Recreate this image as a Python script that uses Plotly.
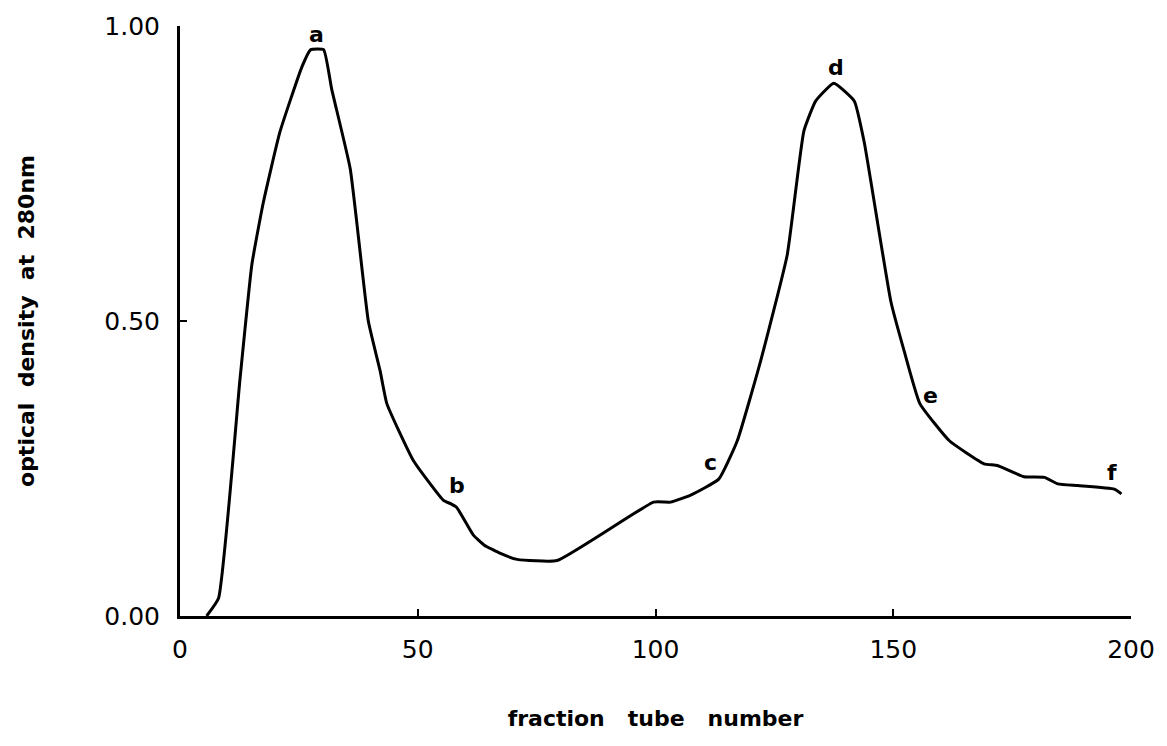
import plotly.graph_objects as go

fraction = [5.6, 8.1, 12.6, 15.1, 17.5, 21.0, 25.6, 27.5, 30.2, 31.9, 35.8, 39.6,
            42.1, 43.5, 49.1, 55.4, 57.0, 58.2, 61.7, 64.0, 67.4, 70.9, 79.3, 99.6,
            103.2, 107.4, 113.3, 117.2, 122.1, 127.7, 131.2, 133.7, 137.5, 141.8,
            143.9, 149.5, 152.3, 155.6, 161.8, 169.1, 171.9, 177.5, 181.8, 184.6,
            188.8, 196.5, 198.0]
od280 = [0.0, 0.03, 0.40, 0.595, 0.70, 0.82, 0.93, 0.96, 0.96, 0.893, 0.758, 0.50,
         0.415, 0.36, 0.263, 0.196, 0.19, 0.184, 0.137, 0.12, 0.106, 0.096, 0.094, 0.193,
         0.193, 0.205, 0.232, 0.297, 0.432, 0.612, 0.822, 0.873, 0.903, 0.873,
         0.803, 0.533, 0.449, 0.36, 0.297, 0.258, 0.255, 0.236, 0.235, 0.224,
         0.221, 0.215, 0.207]

label_text = ["a", "b", "c", "d", "e", "f"]
label_x = [28.8, 58.3, 111.6, 137.9, 157.9, 196.1]
label_y = [0.985, 0.221, 0.26, 0.929, 0.373, 0.243]

x_ticks = [0, 50, 100, 150, 200]
y_ticks = [0.0, 0.5, 1.0]

FONT = "DejaVu Sans"

fig = go.Figure()
fig.add_trace(go.Scatter(x=fraction, y=od280, mode="lines",
                         line=dict(color="black", width=3, shape="spline", smoothing=0.4),
                         showlegend=False, hoverinfo="skip"))

for t, lx, ly in zip(label_text, label_x, label_y):
    fig.add_annotation(x=lx, y=ly, text="<b>" + t + "</b>", showarrow=False,
                       font=dict(family=FONT, size=22, color="black"))

fig.update_layout(
    width=1167, height=746,
    margin=dict(l=180, r=36, t=23, b=130),
    paper_bgcolor="white", plot_bgcolor="white",
    font=dict(family=FONT, size=25, color="black"),
    xaxis=dict(range=[0, 200], tickvals=x_ticks, ticks="inside", ticklen=7,
               tickwidth=2, tickcolor="black", showline=True, linecolor="black",
               linewidth=3, showgrid=False, zeroline=False,
               tickfont=dict(family=FONT, size=25),
               ticklabelstandoff=9,
               title=dict(text="<b>fraction   tube   number</b>", standoff=48,
                          font=dict(family=FONT, size=22))),
    yaxis=dict(range=[0, 1], tickvals=y_ticks, tickformat=".2f", ticks="inside",
               ticklen=7, tickwidth=2, tickcolor="black", showline=True,
               linecolor="black", linewidth=3, showgrid=False, zeroline=False,
               tickfont=dict(family=FONT, size=25),
               ticklabelstandoff=12,
               title=dict(text="<b>optical  density  at  280nm</b>", standoff=64,
                          font=dict(family=FONT, size=22))),
)

fig.write_html("out.html")
